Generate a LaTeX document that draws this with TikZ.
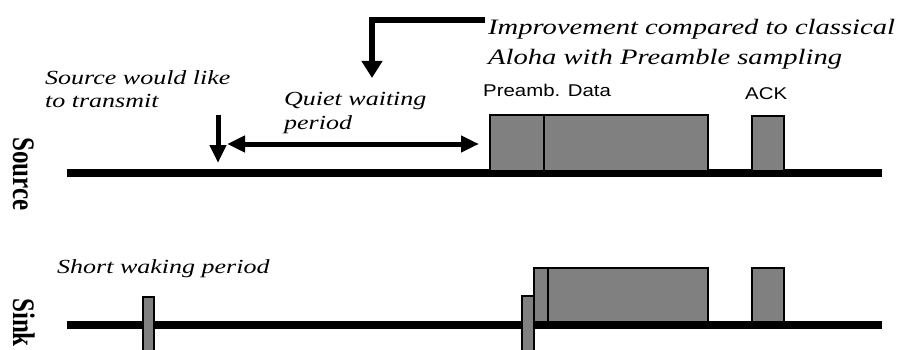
\documentclass[tikz,border=0pt]{standalone}
\usepackage{fontspec}
\setmainfont{Liberation Serif}
\setsansfont{Liberation Sans}
\newfontfamily\notefont[FakeStretch=1.3]{Liberation Serif}
\newfontfamily\tagfont[FakeStretch=1.2]{Liberation Sans}
\usetikzlibrary{arrows.meta}

\tikzset{
  wire/.style={line width=7.5pt},
  pulse/.style={fill=gray, draw=black, line width=2.5pt},
  note/.style={font=\notefont\itshape\fontsize{20}{23}\selectfont, anchor=base west, inner sep=0pt},
  tag/.style={font=\tagfont\fontsize{17}{20}\selectfont, anchor=base west, inner sep=0pt},
  side/.style={font=\bfseries\fontsize{25}{28}\selectfont, rotate=-90, anchor=base west, inner sep=0pt},
  pointer/.style={line width=5pt, -{Triangle[length=18pt,width=16pt]}},
}

\begin{document}
\begin{tikzpicture}[x=1pt,y=-1pt]
\useasboundingbox (0,0) rectangle (899,350);
\clip (0,0) rectangle (899,350);

% time lines
\coordinate (src-a) at (67,173);
\coordinate (src-b) at (882,173);
\coordinate (snk-a) at (67,325);
\coordinate (snk-b) at (882,325);
\draw[wire] (src-a) -- (src-b);
\draw[wire] (snk-a) -- (snk-b);

% source: preamble, data, ack
\filldraw[pulse] (490,115) rectangle (544,171);
\filldraw[pulse] (544,115) rectangle (708,171);
\filldraw[pulse] (752,116) rectangle (784,171);

% sink: short wake ups, then receiving
\filldraw[pulse] (143,297) rectangle (154,360);
\filldraw[pulse] (534,268) rectangle (548,322);
\filldraw[pulse] (548,268) rectangle (708,322);
\filldraw[pulse] (752,268) rectangle (784,322);
\filldraw[pulse] (522,296) rectangle (534,360);

% row names
\node[side] (source) at (13,137) {\scalebox{1}[1.25]{Source}};
\node[side] (sink) at (13,298) {\scalebox{1}[1.25]{Sink}};

% frame names
\node[tag] (preamb) at (483,97) {Preamb. Data};
\node[tag] (ack) at (745,100) {ACK};

% remarks
\node[note] (want1) at (45,85) {Source would like};
\node[note] (want2) at (45,108) {to transmit};
\node[note] (quiet1) at (284,106) {Quiet waiting};
\node[note] (quiet2) at (284,129) {period};
\node[note] (wake) at (57,273) {Short waking period};
\node[note, font=\notefont\itshape\fontsize{22}{26}\selectfont] (imp1) at (488,35) {Improvement compared to classical};
\node[note, font=\notefont\itshape\fontsize{22}{26}\selectfont] (imp2) at (488,65) {Aloha with Preamble sampling};

% arrows
\coordinate (want-top) at (218,115);
\coordinate (want-tip) at (218,163);
\draw[pointer] (want-top) -- (want-tip);

\coordinate (quiet-l) at (227,144);
\coordinate (quiet-r) at (479,144);
\draw[line width=5pt, {Triangle[length=18pt,width=16pt]}-{Triangle[length=18pt,width=16pt]}] (quiet-l) -- (quiet-r);

\coordinate (imp-start) at (485,20);
\coordinate (imp-tip) at (372,78);
\draw[pointer, line width=6pt, -{Triangle[length=17pt,width=20pt]}] (imp-start) -| (imp-tip);
\end{tikzpicture}
\end{document}
